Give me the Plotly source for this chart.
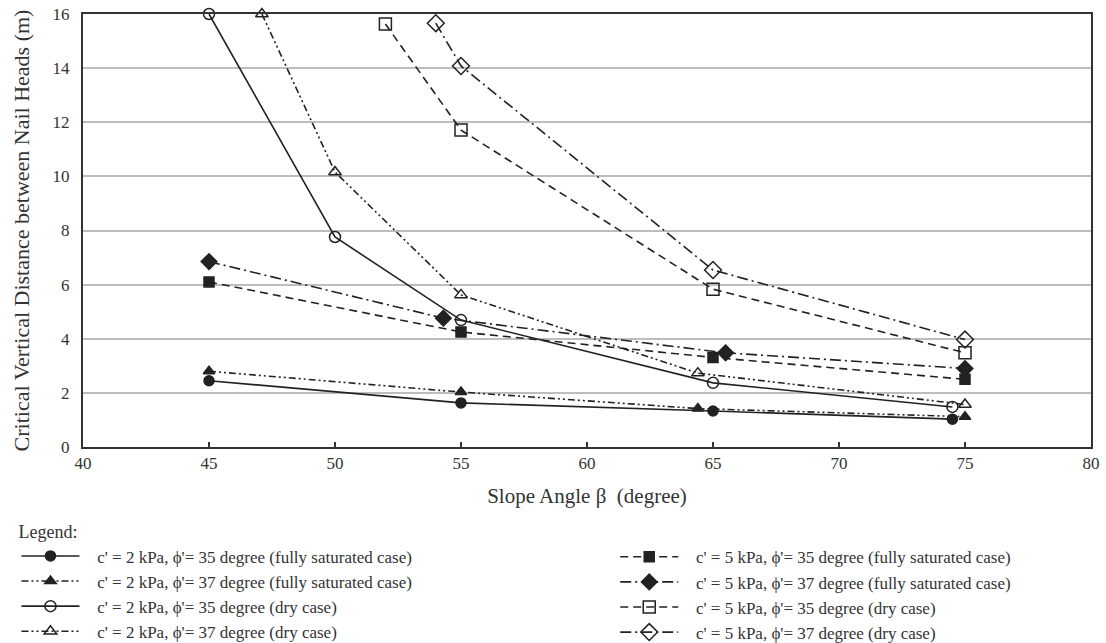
import plotly.graph_objects as go

# ---- data ----
names = [
    "c' = 2 kPa, \u03d5'= 35 degree (fully saturated case)",
    "c' = 2 kPa, \u03d5'= 37 degree (fully saturated case)",
    "c' = 2 kPa, \u03d5'= 35 degree (dry case)",
    "c' = 2 kPa, \u03d5'= 37 degree (dry case)",
    "c' = 5 kPa, \u03d5'= 35 degree (fully saturated case)",
    "c' = 5 kPa, \u03d5'= 37 degree (fully saturated case)",
    "c' = 5 kPa, \u03d5'= 35 degree (dry case)",
    "c' = 5 kPa, \u03d5'= 37 degree (dry case)",
]
x_s1 = [45, 55, 65, 74.5]
y_s1 = [2.45, 1.63, 1.33, 1.03]
x_s2 = [45, 55, 64.4, 75]
y_s2 = [2.8, 2.03, 1.42, 1.12]
x_s3 = [45, 50, 55, 65, 74.5]
y_s3 = [16.0, 7.76, 4.69, 2.37, 1.48]
x_s4 = [47.1, 50, 55, 64.4, 75]
y_s4 = [16.0, 10.16, 5.62, 2.73, 1.57]
x_s5 = [45, 55, 65, 75]
y_s5 = [6.1, 4.25, 3.31, 2.5]
x_s6 = [45, 54.3, 65.5, 75]
y_s6 = [6.85, 4.76, 3.48, 2.9]
x_s7 = [52, 55, 65, 75]
y_s7 = [15.63, 11.71, 5.83, 3.48]
x_s8 = [54, 55, 65, 75]
y_s8 = [15.66, 14.08, 6.54, 3.97]

xs = [x_s1, x_s2, x_s3, x_s4, x_s5, x_s6, x_s7, x_s8]
ys = [y_s1, y_s2, y_s3, y_s4, y_s5, y_s6, y_s7, y_s8]

# ---- styles ----
DOTDOT = "7px,3px,2px,3px,2px,3px"
DASH = "8px,5px"
DASHDOT = "11px,4px,2px,4px"
dashes = ["solid", DOTDOT, "solid", DOTDOT, DASH, DASHDOT, DASH, DASHDOT]
symbols = ["circle", "triangle-up", "circle-open", "triangle-up-open",
           "square", "diamond", "square-open", "diamond-open"]
sizes = [10, 10, 11, 11, 10, 12, 12, 13]
legends = ["legend"] * 4 + ["legend2"] * 4

INK = "#222222"
TXT = "#333333"
FONT = "Liberation Serif"
PAD = "\u00a0\u00a0\u00a0"

fig = go.Figure()
for i in range(8):
    fig.add_trace(go.Scatter(
        x=xs[i], y=ys[i], name=PAD + names[i], mode="lines+markers",
        line=dict(color=INK, width=1.6, dash=dashes[i]),
        marker=dict(symbol=symbols[i], size=sizes[i], color=INK,
                    line=dict(color=INK, width=1.5)),
        legend=legends[i], cliponaxis=False,
    ))

fig.update_layout(
    width=1106, height=643,
    margin=dict(l=83, r=15, t=14, b=196, autoexpand=False),
    paper_bgcolor="white", plot_bgcolor="white",
    font=dict(family=FONT, color=TXT, size=17),
    showlegend=True,
    legend=dict(
        title=dict(text="Legend:", side="top", font=dict(size=18, family=FONT)),
        x=-0.066, xanchor="left", y=-0.157, yanchor="top",
        orientation="v", itemwidth=58,
        font=dict(size=17, family=FONT, color=TXT),
        bgcolor="rgba(0,0,0,0)",
    ),
    legend2=dict(
        x=0.528, xanchor="left", y=-0.213, yanchor="top",
        orientation="v", itemwidth=58,
        font=dict(size=17, family=FONT, color=TXT),
        bgcolor="rgba(0,0,0,0)",
    ),
    xaxis=dict(
        range=[40, 80], dtick=5, tick0=40,
        showline=True, linecolor=TXT, linewidth=2, mirror=True,
        ticks="inside", ticklen=5, tickwidth=2, tickcolor=TXT,
        showgrid=False, zeroline=False,
        tickfont=dict(size=17, family=FONT, color=TXT),
        title=dict(text="Slope Angle \u03b2  (degree)", standoff=16,
                   font=dict(size=21, family=FONT, color=TXT)),
    ),
    yaxis=dict(
        range=[0, 16], dtick=2, tick0=0,
        showline=True, linecolor=TXT, linewidth=2, mirror=True,
        ticks="", showgrid=True, gridcolor="#bdbdbd", gridwidth=1.5,
        zeroline=False, ticklabelstandoff=8,
        tickfont=dict(size=17, family=FONT, color=TXT),
        title=dict(text="Critical Vertical Distance between Nail Heads (m)",
                   standoff=17,
                   font=dict(size=22, family=FONT, color=TXT)),
    ),
)

fig.write_html("out.html")
